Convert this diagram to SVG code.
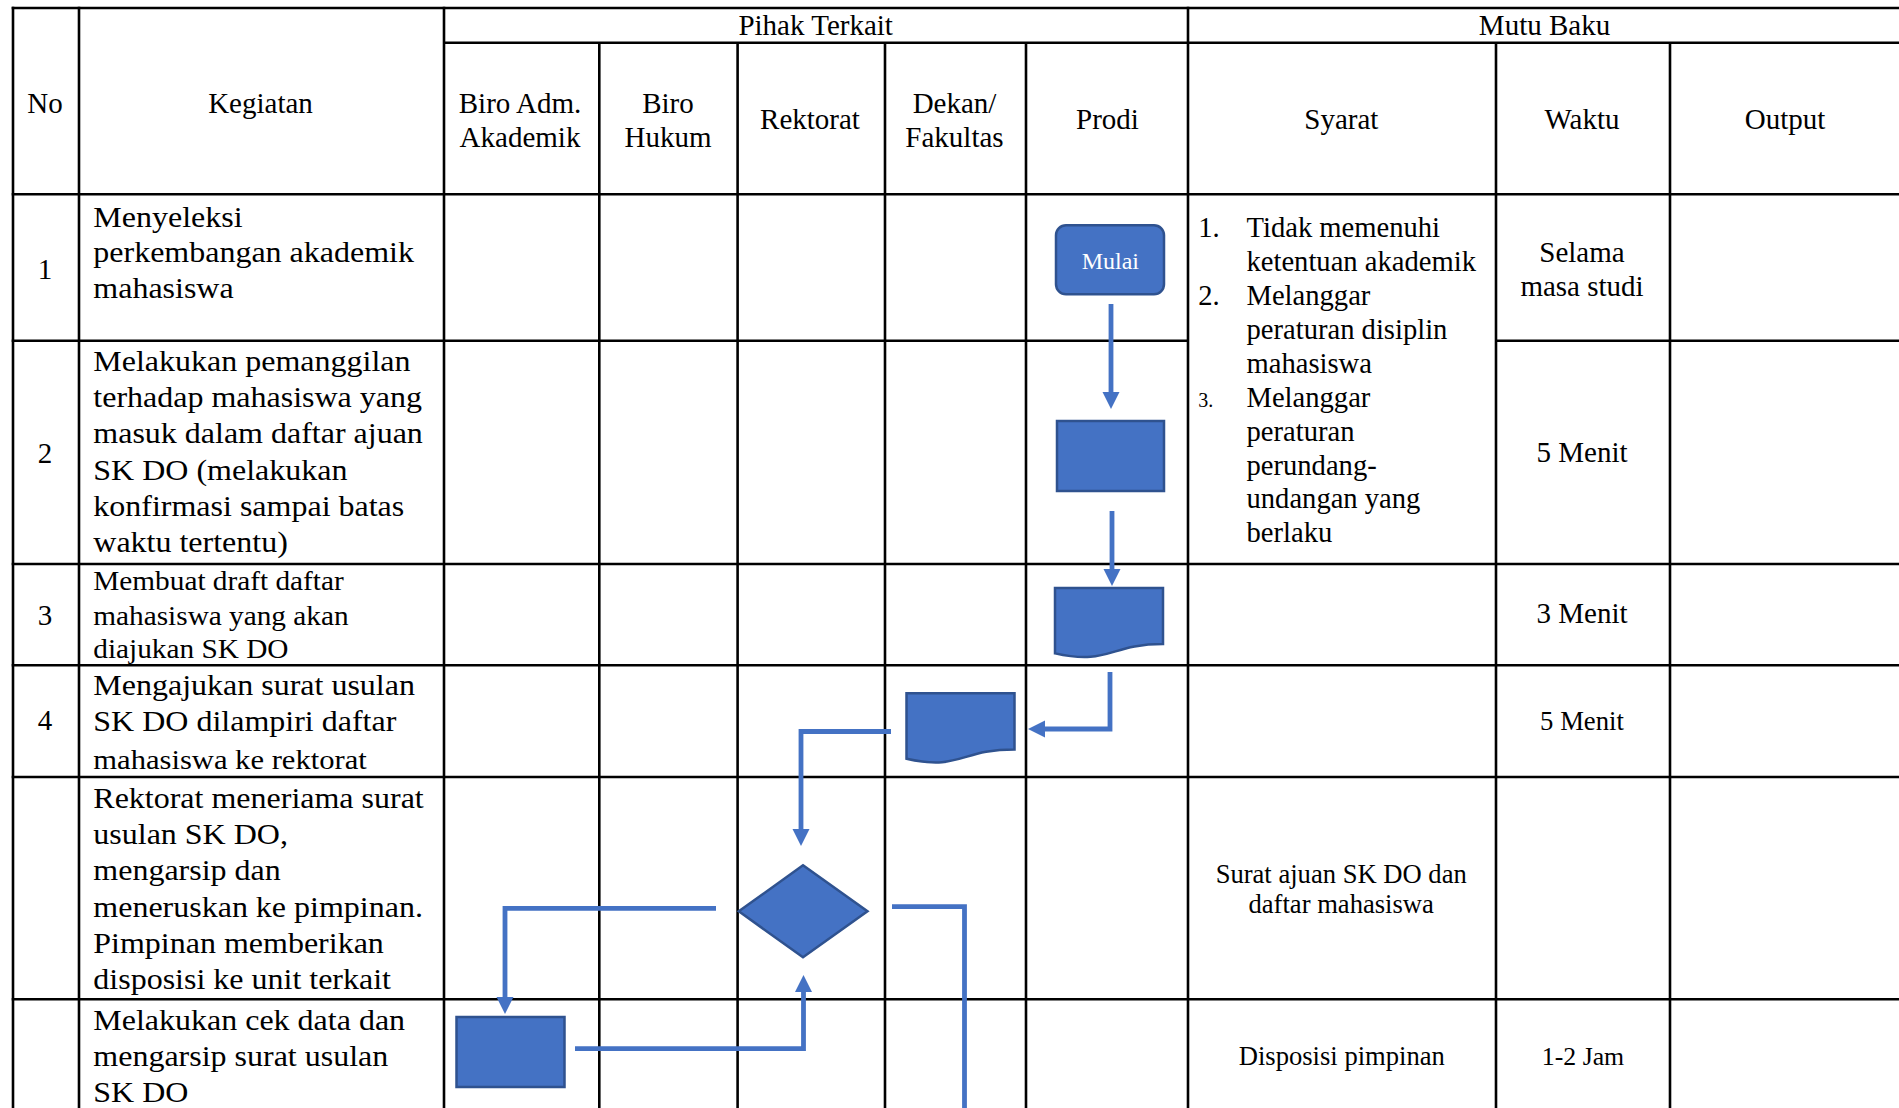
<svg xmlns="http://www.w3.org/2000/svg" width="1899" height="1108" viewBox="0 0 1899 1108">
<style>
text{font-family:"Liberation Serif","Times New Roman",serif;fill:#000}
.h{font-size:29px;text-anchor:middle}
.c{text-anchor:middle}
.k{font-size:29.5px}
.s{font-size:28.6px}
.grid line{stroke:#000;stroke-width:2.6}
.shape{fill:#4472C4;stroke:#2F528F;stroke-width:2.5}
.conn path{fill:none;stroke:#4472C4;stroke-width:4.8}
</style>
<defs>
<marker id="ah" markerUnits="userSpaceOnUse" markerWidth="18" markerHeight="18" refX="0" refY="8.5" orient="auto" overflow="visible">
<path d="M0,0 L17,8.5 L0,17 Z" fill="#4472C4"/>
</marker>
</defs>
<rect width="1899" height="1108" fill="#fff"/>
<g id="grid" class="grid">
<line x1="11.7" y1="8" x2="1899" y2="8"/>
<line x1="444" y1="42.7" x2="1899" y2="42.7"/>
<line x1="11.7" y1="194.3" x2="1899" y2="194.3"/>
<line x1="11.7" y1="340.7" x2="1188" y2="340.7"/>
<line x1="1496" y1="340.7" x2="1899" y2="340.7"/>
<line x1="11.7" y1="564" x2="1899" y2="564"/>
<line x1="11.7" y1="665.3" x2="1899" y2="665.3"/>
<line x1="11.7" y1="777" x2="1899" y2="777"/>
<line x1="11.7" y1="999.3" x2="1899" y2="999.3"/>
<line x1="13" y1="6.7" x2="13" y2="1108"/>
<line x1="79" y1="6.7" x2="79" y2="1108"/>
<line x1="444" y1="6.7" x2="444" y2="1108"/>
<line x1="599.3" y1="42.7" x2="599.3" y2="1108"/>
<line x1="737.6" y1="42.7" x2="737.6" y2="1108"/>
<line x1="885" y1="42.7" x2="885" y2="1108"/>
<line x1="1026" y1="42.7" x2="1026" y2="1108"/>
<line x1="1188" y1="6.7" x2="1188" y2="1108"/>
<line x1="1496" y1="42.7" x2="1496" y2="1108"/>
<line x1="1670" y1="42.7" x2="1670" y2="1108"/>
</g>
<g id="header">
<text class="h" x="815.7" y="35">Pihak Terkait</text>
<text class="h" x="1544.5" y="35">Mutu Baku</text>
<text class="h" x="45" y="112.5">No</text>
<text class="h" x="260.5" y="112.5">Kegiatan</text>
<text class="h" x="520" y="112.7">Biro Adm.</text>
<text class="h" x="520" y="146.7">Akademik</text>
<text class="h" x="668" y="112.7">Biro</text>
<text class="h" x="668" y="146.7">Hukum</text>
<text class="h" x="810" y="129">Rektorat</text>
<text class="h" x="954.5" y="112.7">Dekan/</text>
<text class="h" x="954.5" y="146.7">Fakultas</text>
<text class="h" x="1107.5" y="129">Prodi</text>
<text class="h" x="1341.4" y="129">Syarat</text>
<text class="h" x="1582" y="129">Waktu</text>
<text class="h" x="1785" y="129">Output</text>
</g>
<g id="numbers">
<text class="h" x="45" y="279.3">1</text>
<text class="h" x="45" y="462.7">2</text>
<text class="h" x="45" y="625">3</text>
<text class="h" x="45" y="730">4</text>
</g>
<g id="kegiatan" transform="scale(1.085 1)">
<text class="k" x="86" y="227">Menyeleksi</text>
<text class="k" x="86" y="262.5">perkembangan akademik</text>
<text class="k" x="86" y="298">mahasiswa</text>
<text class="k" x="86" y="371.5">Melakukan pemanggilan</text>
<text class="k" x="86" y="407.5">terhadap mahasiswa yang</text>
<text class="k" x="86" y="443.5">masuk dalam daftar ajuan</text>
<text class="k" x="86" y="480">SK DO (melakukan</text>
<text class="k" x="86" y="516.5">konfirmasi sampai batas</text>
<text class="k" x="86" y="552.5">waktu tertentu)</text>
<text x="86" y="590" font-size="27">Membuat draft daftar</text>
<text x="86" y="625" font-size="27">mahasiswa yang akan</text>
<text x="86" y="658.5" font-size="27">diajukan SK DO</text>
<text class="k" x="86" y="695">Mengajukan surat usulan</text>
<text class="k" x="86" y="731">SK DO dilampiri daftar</text>
<text x="86" y="769" font-size="28.2">mahasiswa ke rektorat</text>
<text class="k" x="86" y="808">Rektorat meneriama surat</text>
<text class="k" x="86" y="844.5">usulan SK DO,</text>
<text class="k" x="86" y="880.5">mengarsip dan</text>
<text class="k" x="86" y="917">meneruskan ke pimpinan.</text>
<text class="k" x="86" y="953">Pimpinan memberikan</text>
<text class="k" x="86" y="989.5">disposisi ke unit terkait</text>
<text class="k" x="86" y="1030">Melakukan cek data dan</text>
<text class="k" x="86" y="1066">mengarsip surat usulan</text>
<text class="k" x="86" y="1102">SK DO</text>
</g>
<g id="syarat">
<text class="s" x="1198.3" y="237">1.</text>
<text class="s" x="1246.5" y="237">Tidak memenuhi</text>
<text class="s" x="1246.5" y="271">ketentuan akademik</text>
<text class="s" x="1198.3" y="305">2.</text>
<text class="s" x="1246.5" y="305">Melanggar</text>
<text class="s" x="1246.5" y="338.5">peraturan disiplin</text>
<text class="s" x="1246.5" y="372.5">mahasiswa</text>
<text x="1198.3" y="406.5" font-size="20">3.</text>
<text class="s" x="1246.5" y="406.5">Melanggar</text>
<text class="s" x="1246.5" y="440.5">peraturan</text>
<text class="s" x="1246.5" y="474.5">perundang-</text>
<text class="s" x="1246.5" y="508">undangan yang</text>
<text class="s" x="1246.5" y="541.5">berlaku</text>
<text class="c" x="1341.2" y="883.3" font-size="26.6">Surat ajuan SK DO dan</text>
<text class="c" x="1341.2" y="913.3" font-size="26.6">daftar mahasiswa</text>
<text class="c" x="1341.8" y="1065" font-size="26.6">Disposisi pimpinan</text>
</g>
<g id="waktu">
<text class="c" x="1582" y="261.7" font-size="29">Selama</text>
<text class="c" x="1582" y="296" font-size="29">masa studi</text>
<text class="c" x="1582" y="461.7" font-size="29">5 Menit</text>
<text class="c" x="1582" y="623.3" font-size="29">3 Menit</text>
<text class="c" x="1582" y="730" font-size="26.7">5 Menit</text>
<text class="c" x="1583" y="1065" font-size="25.8">1-2 Jam</text>
</g>
<g id="connectors" class="conn">
<path marker-end="url(#ah)" d="M1111,304 V392"/>
<path marker-end="url(#ah)" d="M1112,511 V569"/>
<path marker-end="url(#ah)" d="M1110,672 V729 H1045"/>
<path marker-end="url(#ah)" d="M891,731.5 H801 V829"/>
<path marker-end="url(#ah)" d="M716,908.3 H505 V997"/>
<path d="M892,906.7 H964.5 V1110"/>
<path marker-end="url(#ah)" d="M575,1048.7 H803.5 V992"/>
</g>
<g id="node-mulai">
<rect class="shape" x="1056" y="225.3" width="108" height="69" rx="10" ry="10"/>
<text x="1110.3" y="269.3" font-size="24" text-anchor="middle" style="fill:#fff">Mulai</text>
</g>
<g id="node-panggil">
<rect class="shape" x="1057" y="421" width="107" height="70"/>
</g>
<g id="node-draft">
<path class="shape" d="M1055,588 H1163 V644.1 C1109,644.1 1109,665.5 1055,653.4 Z"/>
</g>
<g id="node-surat">
<path class="shape" d="M906.5,693.3 H1014.5 V749.4 C960.5,749.4 960.5,770.8 906.5,758.7 Z"/>
</g>
<g id="node-keputusan">
<polygon class="shape" points="803,865.3 867.5,911.3 803,957.3 738.8,911.3"/>
</g>
<g id="node-cekdata">
<rect class="shape" x="456.5" y="1017" width="108" height="70"/>
</g>
</svg>
